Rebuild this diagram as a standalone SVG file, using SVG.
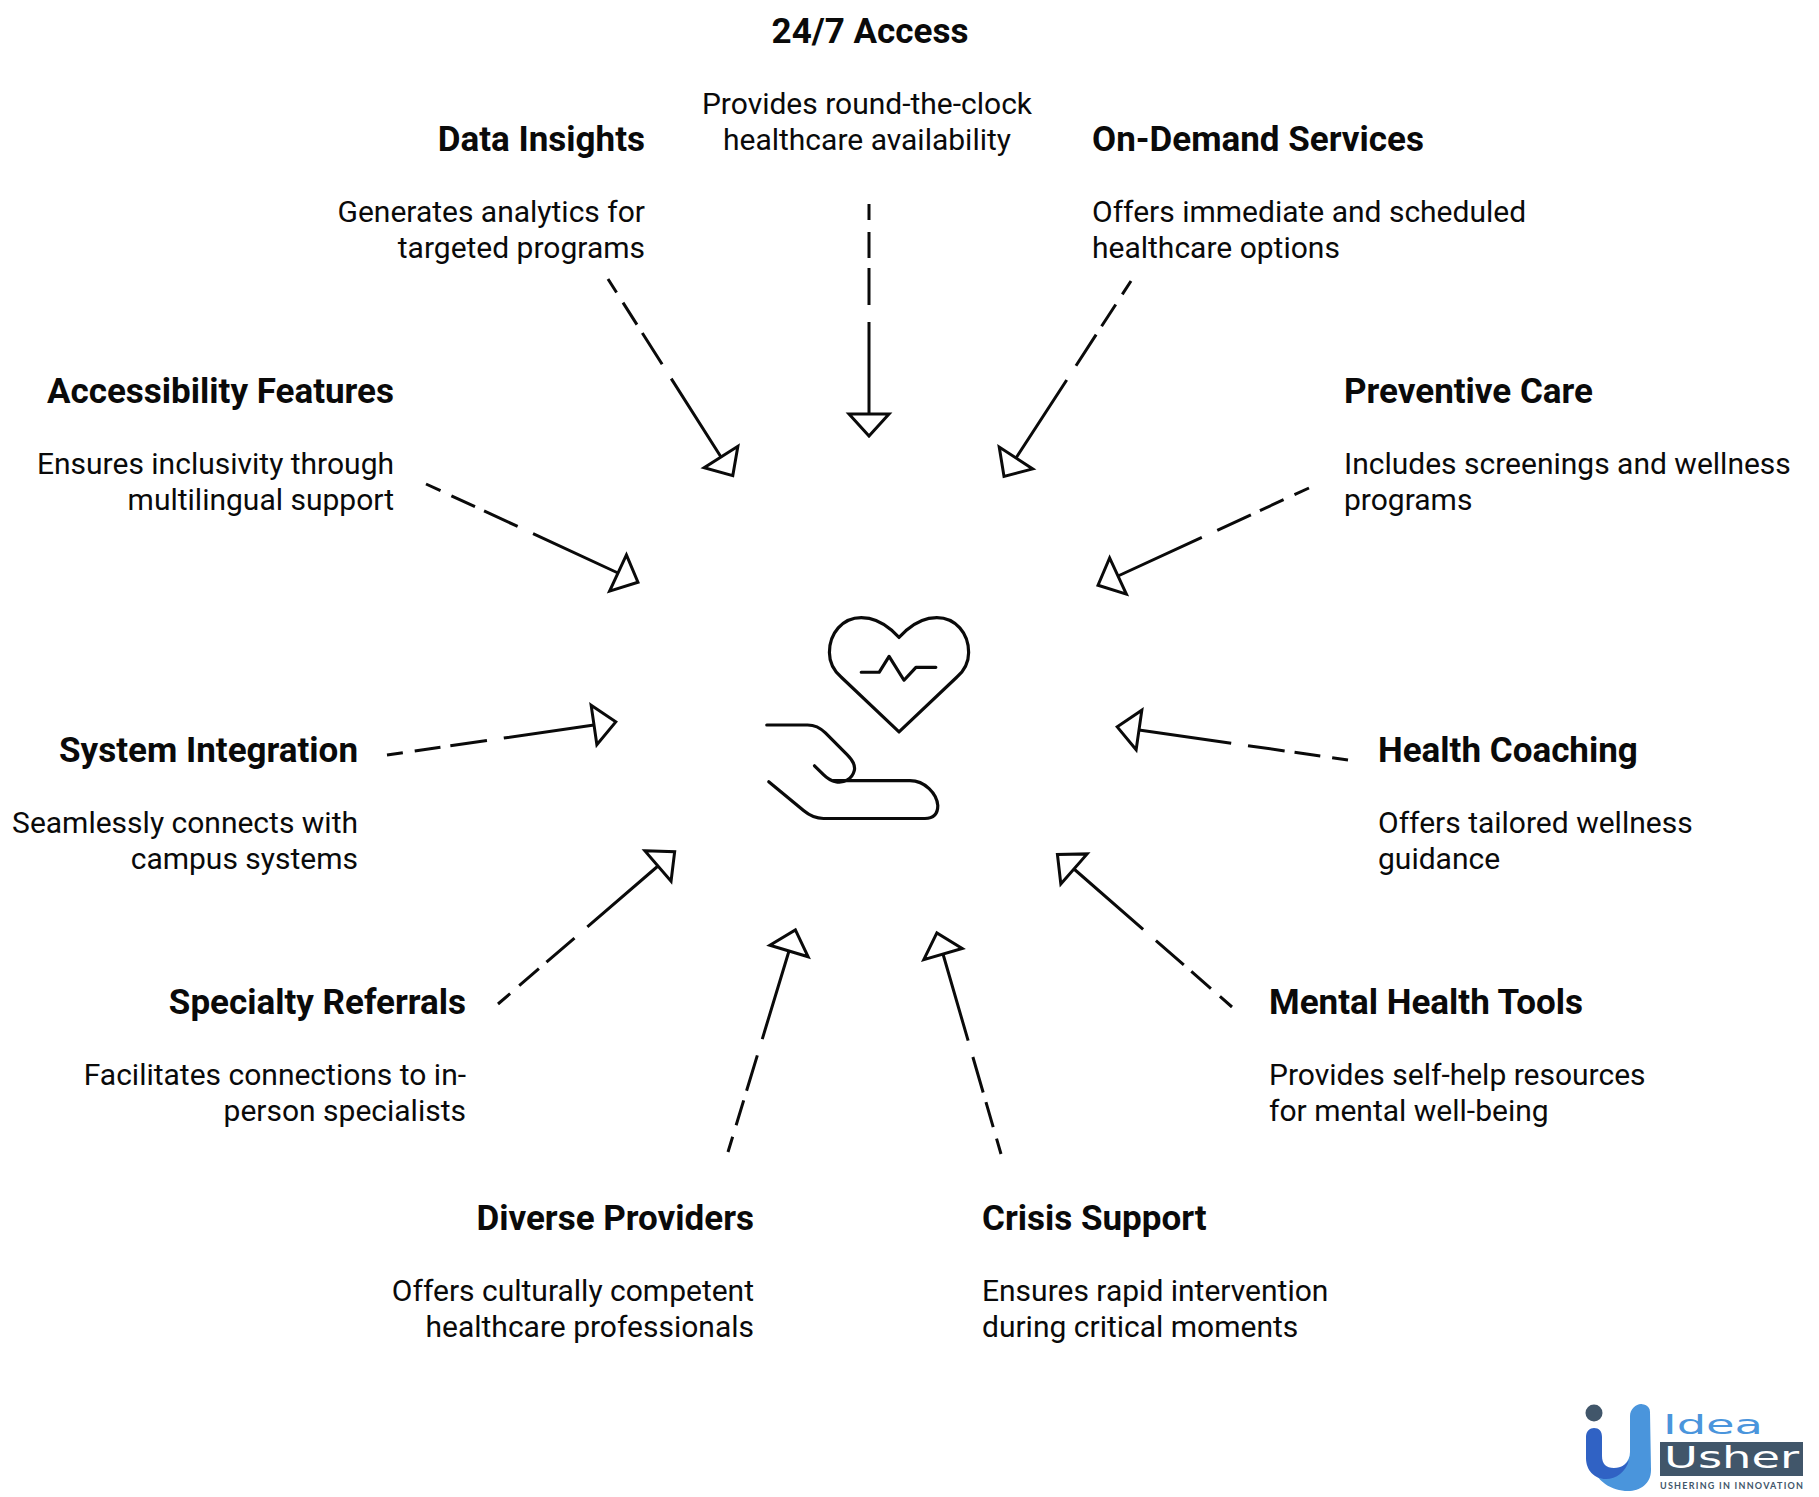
<svg xmlns="http://www.w3.org/2000/svg" width="1819" height="1497" viewBox="0 0 1819 1497">
<style>
.t{font-family:Roboto,"Liberation Sans",sans-serif;font-weight:700;font-size:35px;fill:#0a0a0a}
.b{font-family:Roboto,"Liberation Sans",sans-serif;font-weight:400;font-size:30px;fill:#0a0a0a}
.r{text-anchor:end}.m{text-anchor:middle}
.c{fill:none;stroke:#0a0a0a;stroke-width:3;stroke-dasharray:16 12 26 10 37 17 400;marker-end:url(#h)}
.i{fill:none;stroke:#0a0a0a;stroke-width:3.2;stroke-linecap:round;stroke-linejoin:round}
</style>
<defs>
<marker id="h" markerUnits="userSpaceOnUse" viewBox="-3 -25 30 50" refX="0" refY="0" markerWidth="30" markerHeight="50" orient="auto" overflow="visible">
<path d="M0 -20 L22 0 L0 20 Z" fill="#fff" stroke="#0a0a0a" stroke-width="3"/>
</marker>
</defs>
<rect width="1819" height="1497" fill="#fff"/>
<g id="connectors">
<path class="c" d="M869 204V414"/>
<path class="c" d="M608 279L721 457"/>
<path class="c" d="M1131 281L1016 458"/>
<path class="c" d="M426 484L618 573"/>
<path class="c" d="M1309 488L1118 576"/>
<path class="c" d="M387 755L594 725"/>
<path class="c" d="M1348 760L1139 730"/>
<path class="c" d="M498 1004L658 866"/>
<path class="c" d="M1232 1007L1074 869"/>
<path class="c" d="M728 1152L789 951"/>
<path class="c" d="M1001 1154L943 954"/>
</g>
<g id="center-icon" transform="scale(.9945)">
<path class="i" d="M904 641L897 634C888 626 877 621 866 621C847 621 834 637 834 656C834 666 838 674 846 681L904 736L962 681C970 674 974 666 974 656C974 637 961 621 942 621C931 621 920 626 911 634Z"/>
<path class="i" d="M866 676H884L894 660L909 684L921 671H941"/>
<path class="i" d="M771 729H812C820 729 825 732 830 737L852 759C858 765 860 771 859 775C857 783 849 788 840 786C835 785 831 782 828 779L819 770"/>
<path class="i" d="M838 785H915C930 785 942 798 943 810C943 818 939 823 930 823H828C820 823 814 820 808 815L773 786"/>
</g>
<g id="n-247"><text class="t m" x="870" y="43">24/7 Access</text><text class="b m" x="867" y="114">Provides round-the-clock</text><text class="b m" x="867" y="150">healthcare availability</text></g>
<g id="n-data"><text class="t r" x="645" y="151">Data Insights</text><text class="b r" x="645" y="222">Generates analytics for</text><text class="b r" x="645" y="258">targeted programs</text></g>
<g id="n-ondemand"><text class="t" x="1092" y="151">On-Demand Services</text><text class="b" x="1092" y="222">Offers immediate and scheduled</text><text class="b" x="1092" y="258">healthcare options</text></g>
<g id="n-access"><text class="t r" x="394" y="403">Accessibility Features</text><text class="b r" x="394" y="474">Ensures inclusivity through</text><text class="b r" x="394" y="510">multilingual support</text></g>
<g id="n-prevent"><text class="t" x="1344" y="403">Preventive Care</text><text class="b" x="1344" y="474">Includes screenings and wellness</text><text class="b" x="1344" y="510">programs</text></g>
<g id="n-system"><text class="t r" x="358" y="762">System Integration</text><text class="b r" x="358" y="833">Seamlessly connects with</text><text class="b r" x="358" y="869">campus systems</text></g>
<g id="n-coach"><text class="t" x="1378" y="762">Health Coaching</text><text class="b" x="1378" y="833">Offers tailored wellness</text><text class="b" x="1378" y="869">guidance</text></g>
<g id="n-special"><text class="t r" x="466" y="1014">Specialty Referrals</text><text class="b r" x="466" y="1085">Facilitates connections to in-</text><text class="b r" x="466" y="1121">person specialists</text></g>
<g id="n-mental"><text class="t" x="1269" y="1014">Mental Health Tools</text><text class="b" x="1269" y="1085">Provides self-help resources</text><text class="b" x="1269" y="1121">for mental well-being</text></g>
<g id="n-diverse"><text class="t r" x="754" y="1230">Diverse Providers</text><text class="b r" x="754" y="1301">Offers culturally competent</text><text class="b r" x="754" y="1337">healthcare professionals</text></g>
<g id="n-crisis"><text class="t" x="982" y="1230">Crisis Support</text><text class="b" x="982" y="1301">Ensures rapid intervention</text><text class="b" x="982" y="1337">during critical moments</text></g>
<g id="logo">
<path d="M1650 1412C1650 1404 1641 1404 1641 1404C1636 1404 1630 1409 1630 1416V1452C1630 1462 1622 1470 1610 1470C1600 1470 1594 1466 1590 1462C1596 1482 1612 1491 1628 1491C1640 1491 1651 1484 1651 1470Z" fill="#4a95dc"/>
<path d="M1586 1437C1586 1431 1590 1428 1594 1428C1599 1428 1602 1431 1602 1437V1456C1602 1464 1606 1468 1614 1468C1622 1468 1626 1464 1629 1460C1626 1472 1616 1479 1606 1479C1594 1479 1586 1470 1586 1458Z" fill="#3062c4"/>
<circle cx="1594" cy="1413" r="8.5" fill="#41566a"/>
<text x="1663" y="1434" font-family="'DejaVu Sans',sans-serif" font-size="26" fill="#4a95dc" textLength="100" lengthAdjust="spacingAndGlyphs">Idea</text>
<rect x="1660" y="1442" width="143" height="34" fill="#41566a"/>
<text x="1664" y="1468" font-family="'DejaVu Sans',sans-serif" font-size="30" fill="#fff" textLength="135" lengthAdjust="spacingAndGlyphs">Usher</text>
<text x="1660" y="1489" font-family="Lato,sans-serif" font-size="9" font-weight="700" fill="#41566a" textLength="143">USHERING IN INNOVATION</text>
</g>
</svg>
